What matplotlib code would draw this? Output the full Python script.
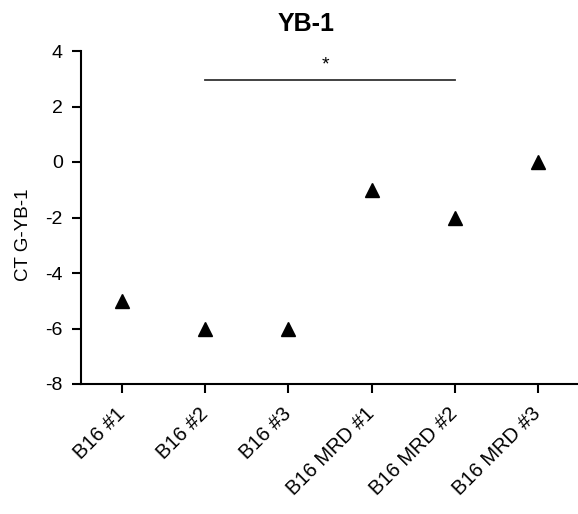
import numpy as np
import matplotlib
matplotlib.use("Agg")
import matplotlib.pyplot as plt

plt.rcParams['font.family'] = ['Liberation Sans', 'DejaVu Sans']
plt.rcParams['axes.unicode_minus'] = False

# data
samples = ['B16 #1', 'B16 #2', 'B16 #3', 'B16 MRD #1', 'B16 MRD #2', 'B16 MRD #3']
ct_values = [-5, -6, -6, -1, -2, 0]
sig_pair = (1, 4)
sig_height = 2.95

fig = plt.figure(figsize=(5.78, 5.14), dpi=100)
ax = fig.add_axes([81 / 578, 1 - 384 / 514, 1 - 81 / 578, (384 - 51) / 514])

x = np.arange(len(samples))
ax.plot(x, ct_values, linestyle='none', marker='^', markersize=10, color='black')

ax.set_xlim(-0.493, 5.48)
ax.set_ylim(-8, 4)
ax.set_yticks(np.arange(-8, 5, 2))
ax.set_xticks(x)
ax.set_xticklabels(samples, rotation=45, ha='right', va='center', rotation_mode='anchor')
ax.tick_params(axis='both', width=1.5, length=6.5, color='black')
ax.tick_params(axis='y', labelsize=14, pad=6.5)
ax.tick_params(axis='x', labelsize=14.5, pad=13)

for side in ['top', 'right']:
    ax.spines[side].set_visible(False)
for side in ['left', 'bottom']:
    ax.spines[side].set_linewidth(1.5)

ax.set_ylabel('CT G-YB-1', fontsize=13.5)
ax.yaxis.set_label_coords(-0.098, 0.447)

# significance bar
ax.plot(sig_pair, [sig_height, sig_height], color='#333333', linewidth=1.3, clip_on=False)
ax.text(np.mean(sig_pair) - 0.06, sig_height + 0.25, '*', ha='center', va='bottom', fontsize=14)

fig.text(306 / 578, 1 - 24 / 514, 'YB-1', ha='center', va='center', fontsize=18, fontweight='bold')

fig.savefig('out.png', dpi=100)
